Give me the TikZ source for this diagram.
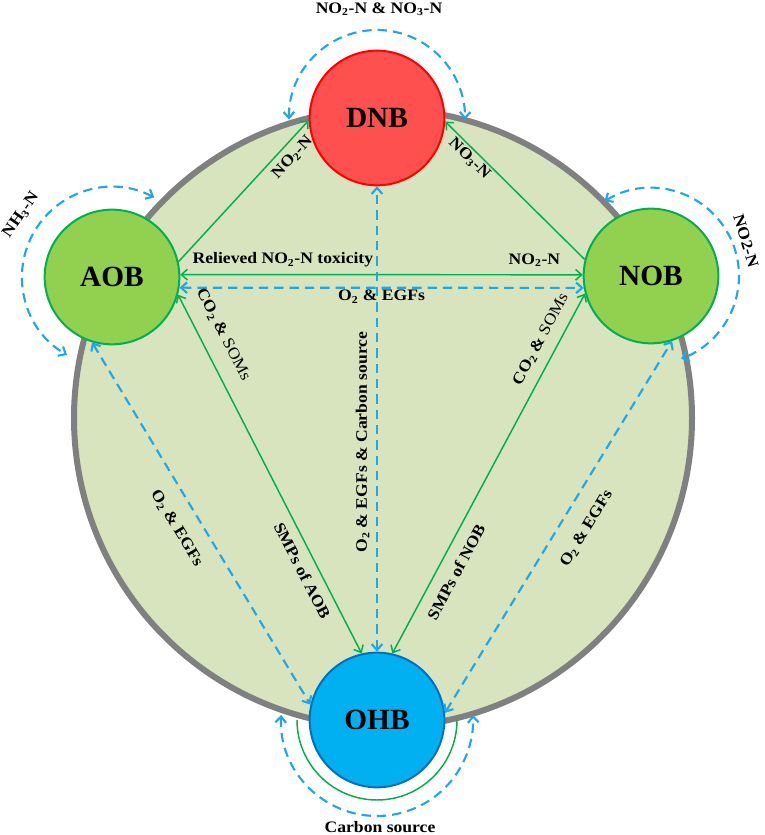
\documentclass[tikz,border=0pt]{standalone}
\usepackage{fontspec}
\setmainfont{Liberation Serif}
\newfontfamily\wideserif{Liberation Serif}[FakeStretch=1.1]
\usetikzlibrary{arrows.meta}
\definecolor{pale}{RGB}{215,228,189}
\definecolor{rim}{RGB}{128,128,128}
\definecolor{leaf}{RGB}{146,208,80}
\definecolor{grn}{RGB}{0,176,80}
\definecolor{sky}{RGB}{0,176,240}
\definecolor{blu}{RGB}{30,168,232}
\definecolor{navy}{RGB}{0,112,192}
\definecolor{rd}{RGB}{255,80,80}
\newcommand{\lo}[1]{\textsubscript{#1}}

\begin{document}
\begin{tikzpicture}[x=0.75pt,y=0.75pt,>={Straight Barb[length=4.5pt,width=8pt]},
    bug/.style={circle,draw,line width=1.5pt,minimum size=101pt,inner sep=0pt,
        font=\bfseries\fontsize{22}{24}\selectfont},
    lbl/.style={text=black,font=\wideserif\bfseries\fontsize{12}{14}\selectfont,inner sep=0pt},
    flow/.style={grn,line width=1.1pt},
    dflow/.style={blu,line width=1.6pt,dash pattern=on 7pt off 4.5pt}]
    \useasboundingbox (0,0) rectangle (764,835);

    % community
    \fill[pale] (383,417) circle[radius=309];
    \draw[rim,line width=4.5pt] (383,417) circle[radius=309];

    \node[bug,draw=red,fill=rd] (DNB) at (377,717) {DNB};
    \node[bug,draw=grn,fill=leaf] (AOB) at (112,558) {AOB};
    \node[bug,draw=grn,fill=leaf] (NOB) at (651,559) {NOB};
    \node[bug,draw=navy,fill=sky] (OHB) at (377,115) {OHB};

    % exchanges between the groups
    \draw[flow,->] (AOB.13) -- (DNB.182)
        node[lbl,sloped,below=4.5pt,pos=0.8] {NO\lo2-N};
    \draw[flow,<-] (DNB.-3) -- (NOB.166)
        node[lbl,sloped,below=1.5pt,pos=0.22] {NO\lo3-N};
    \draw[flow,<->] (AOB.2) -- (NOB.179)
        node[lbl,above=5pt,pos=0.255] {Relieved NO\lo2-N toxicity}
        node[lbl,above=5.5pt,pos=0.88] {NO\lo2-N};
    \draw[dflow,<->] (AOB.-9) -- (NOB.190)
        node[lbl,below=1pt,pos=0.5] {O\lo2 \& EGFs};
    \draw[dflow,<->] (OHB.90) -- (DNB.270)
        node[lbl,sloped,above=5pt,pos=0.45] {O\lo2 \& EGFs \& Carbon source};
    \draw[flow,<->] (AOB.-15) -- (OHB.103)
        node[lbl,sloped,above=11pt,pos=0.14] {CO\lo2 \& {\mdseries SOMs}}
        node[lbl,sloped,below=6.5pt,pos=0.75] {SMPs of AOB};
    \draw[flow,<->] (OHB.77) -- (NOB.195)
        node[lbl,sloped,below=8.5pt,pos=0.25] {SMPs of NOB}
        node[lbl,sloped,above=7.5pt,pos=0.85] {CO\lo2 \& {\mdseries SOMs}};
    \draw[dflow,<->] (AOB.253) -- (OHB.167)
        node[lbl,sloped,below=12pt,pos=0.48] {O\lo2 \& EGFs};
    \draw[dflow,<->] (OHB.6) -- (NOB.288)
        node[lbl,sloped,below=13pt,pos=0.53] {O\lo2 \& EGFs};

    % self loops
    \draw[dflow,<->] (DNB.center) ++(181:88) arc[start angle=181,end angle=-1,radius=88];
    \draw[dflow,<->] (AOB.center) ++(62:90) arc[start angle=62,end angle=240,radius=90];
    \draw[dflow,<->] (NOB.center) ++(122:88) arc[start angle=122,end angle=-70,radius=88];
    \draw[flow] (OHB.center) ++(180:80) arc[start angle=180,end angle=360,radius=80];
    \draw[dflow,<->] (OHB.center) ++(177:96) arc[start angle=177,end angle=363,radius=96];

    \node[lbl] (capDNB) at (379,826) {NO\lo2-N \& NO\lo3-N};
    \node[lbl,rotate=55] (capAOB) at (21,620) {NH\lo3-N};
    \node[lbl,rotate=-73] (capNOB) at (746,594) {NO2-N};
    \node[lbl] (capOHB) at (380,8) {Carbon source};
\end{tikzpicture}
\end{document}
